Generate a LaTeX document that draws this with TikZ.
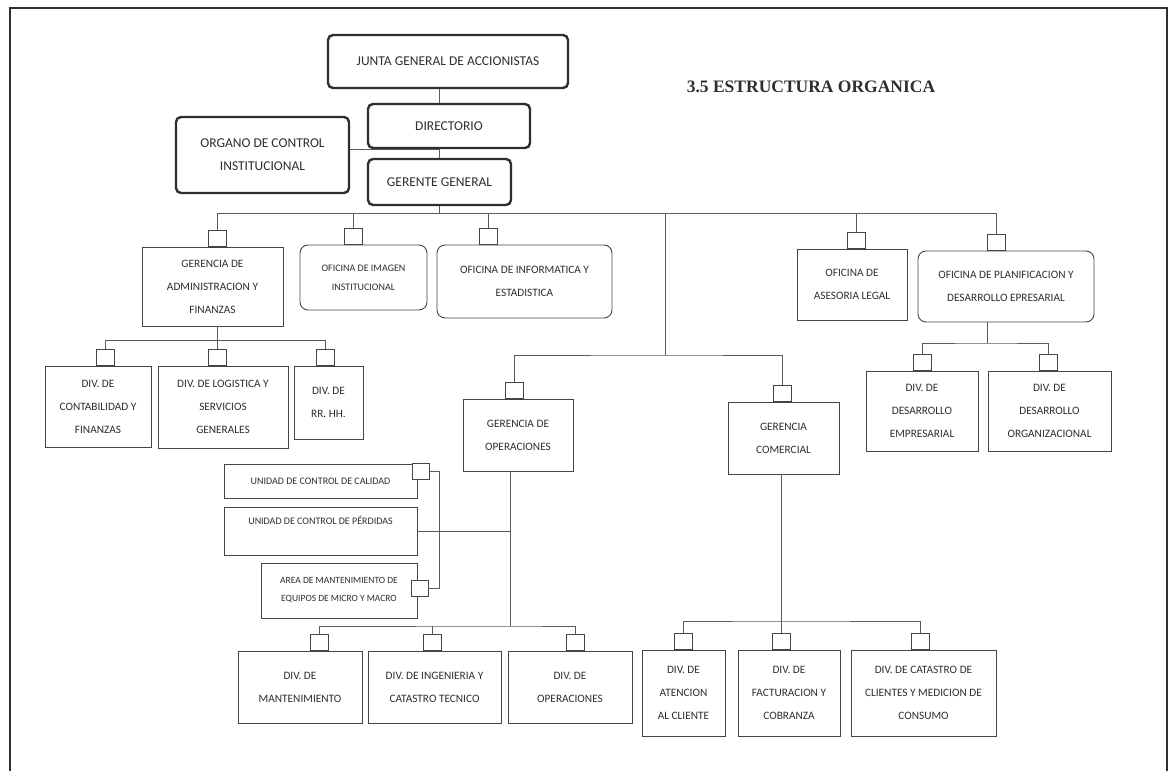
\documentclass[tikz,border=0pt]{standalone}
\usepackage{fontspec}
\setmainfont{Carlito}
\newfontfamily\titlefont{Liberation Serif}
\usepackage{tikz}
\usepackage{xcolor}
\definecolor{ink}{HTML}{2E2E2E}
\definecolor{boxcol}{HTML}{444444}
\definecolor{wirecol}{HTML}{5A5A5A}
\tikzset{
    top-box/.style = {draw=ink, fill=white, line width=2.4pt, rectangle, rounded corners=5pt, align=center, inner sep=2pt, text=ink, font=\fontsize{13.5}{23}\selectfont},
    plain-box/.style = {draw=boxcol, fill=white, line width=0.9pt, rectangle, align=center, inner sep=2pt, text=ink, font=\fontsize{11.3}{23}\selectfont},
    round-box/.style = {plain-box, rounded corners=8pt},
    unit-box/.style = {plain-box, font=\fontsize{10}{18}\selectfont},
    link-box/.style = {draw=boxcol, fill=white, line width=0.9pt, rectangle, minimum width=18pt, minimum height=16pt, inner sep=0pt, anchor=south},
    wire/.style = {draw=wirecol, line width=0.9pt},
}

\begin{document}
\begin{tikzpicture}[x=1pt, y=-1pt]
\useasboundingbox (0,0) rectangle (1170,771);
\draw[ink, line width=1.4pt] (10,771) -- (10,8) -- (1167,8) -- (1167,771);

% top of the chart
\node[top-box, minimum width=240pt, minimum height=53pt] (junta) at (448,61.5) {JUNTA GENERAL DE ACCIONISTAS};
\node[top-box, minimum width=162pt, minimum height=44pt] (directorio) at (449,126) {DIRECTORIO};
\node[top-box, minimum width=173pt, minimum height=76pt] (organo) at (262.5,155) {ORGANO DE CONTROL\\INSTITUCIONAL};
\node[top-box, minimum width=143pt, minimum height=46pt] (gerente) at (439.5,182) {GERENTE GENERAL};
\node[text=ink, font=\titlefont\bfseries\fontsize{17.5}{20}\selectfont] (titulo) at (811,87) {3.5 ESTRUCTURA ORGANICA};

% second level
\node[plain-box, minimum width=141pt, minimum height=79pt] (adm) at (212.5,286.5) {GERENCIA DE\\ADMINISTRACION Y\\FINANZAS};
\node[round-box, minimum width=127pt, minimum height=65pt, font=\fontsize{10}{19}\selectfont] (img) at (363.5,277.5) {OFICINA DE IMAGEN\\INSTITUCIONAL};
\node[round-box, minimum width=175pt, minimum height=73pt] (inf) at (524.5,281.5) {OFICINA DE INFORMATICA Y\\ESTADISTICA};
\node[plain-box, minimum width=110pt, minimum height=71pt] (ase) at (852,284.5) {OFICINA DE\\ASESORIA LEGAL};
\node[round-box, minimum width=176pt, minimum height=71pt] (pla) at (1006,286.5) {OFICINA DE PLANIFICACION Y\\DESARROLLO EPRESARIAL};

\node[link-box] (sqadm) at (217,247) {};
\node[link-box] (sqimg) at (353,245) {};
\node[link-box] (sqinf) at (488,245) {};
\node[link-box] (sqase) at (856,249) {};
\node[link-box] (sqpla) at (996,251) {};

% divisions under administracion
\node[plain-box, minimum width=106pt, minimum height=81pt] (con) at (98,406.5) {DIV. DE\\CONTABILIDAD Y\\FINANZAS};
\node[plain-box, minimum width=130pt, minimum height=82pt] (log) at (223,407) {DIV. DE LOGISTICA Y\\SERVICIOS\\GENERALES};
\node[plain-box, minimum width=69pt, minimum height=73pt] (rrh) at (328.5,402.5) {DIV. DE\\RR. HH.};
\node[link-box] (sqcon) at (105,366) {};
\node[link-box] (sqlog) at (217,366) {};
\node[link-box] (sqrrh) at (325,366) {};

% divisions under planificacion
\node[plain-box, minimum width=112pt, minimum height=80pt] (emp) at (922,411) {DIV. DE\\DESARROLLO\\EMPRESARIAL};
\node[plain-box, minimum width=123pt, minimum height=80pt] (org) at (1049.5,411) {DIV. DE\\DESARROLLO\\ORGANIZACIONAL};
\node[link-box] (sqemp) at (922,371) {};
\node[link-box] (sqorg) at (1048,371) {};

% gerencias
\node[plain-box, minimum width=110pt, minimum height=72pt] (gop) at (518,435) {GERENCIA DE\\OPERACIONES};
\node[plain-box, minimum width=111pt, minimum height=72pt] (gcom) at (783.5,438) {GERENCIA\\COMERCIAL};
\node[link-box] (sqop) at (514,399) {};
\node[link-box] (sqcom) at (782,402) {};

% unidades beside operaciones
\node[unit-box, minimum width=193pt, minimum height=34pt] (cal) at (320.5,481) {UNIDAD DE CONTROL DE CALIDAD};
\node[unit-box, minimum width=193pt, minimum height=48pt, label={[anchor=north, yshift=-6pt, text=ink, font=\fontsize{10}{18}\selectfont]north:UNIDAD DE CONTROL DE PÉRDIDAS}] (per) at (320.5,531) {};
\node[unit-box, minimum width=156pt, minimum height=55pt, font=\fontsize{9.5}{18}\selectfont] (are) at (339,590.5) {AREA DE MANTENIMIENTO DE\\EQUIPOS DE MICRO Y MACRO};
\node[link-box, anchor=center, minimum width=17pt] (sqcal) at (420.5,471) {};
\node[link-box, anchor=center, minimum width=17pt] (sqare) at (419.5,588.5) {};

% divisions under operaciones
\node[plain-box, minimum width=124pt, minimum height=72pt] (man) at (300,687) {DIV. DE\\MANTENIMIENTO};
\node[plain-box, minimum width=133pt, minimum height=72pt] (ing) at (434.5,687) {DIV. DE INGENIERIA Y\\CATASTRO TECNICO};
\node[plain-box, minimum width=124pt, minimum height=72pt] (dop) at (570,687) {DIV. DE\\OPERACIONES};
\node[link-box] (sqman) at (319,651) {};
\node[link-box] (sqing) at (432,651) {};
\node[link-box] (sqdop) at (575,651) {};

% divisions under comercial
\node[plain-box, minimum width=83pt, minimum height=86pt] (ate) at (683.5,693) {DIV. DE\\ATENCION\\AL CLIENTE};
\node[plain-box, minimum width=102pt, minimum height=86pt] (fac) at (789,693) {DIV. DE\\FACTURACION Y\\COBRANZA};
\node[plain-box, minimum width=145pt, minimum height=86pt] (cat) at (923.5,693) {DIV. DE CATASTRO DE\\CLIENTES Y MEDICION DE\\CONSUMO};
\node[link-box] (sqate) at (683,650) {};
\node[link-box] (sqfac) at (781,650) {};
\node[link-box] (sqcat) at (920,650) {};

% connectors
\coordinate (bus) at (0,213);
\coordinate (mid) at (665,213);
\coordinate (midlow) at (665,355);
\coordinate (admbus) at (0,340);
\coordinate (plabus) at (987,343);
\coordinate (opbus) at (510,626);
\coordinate (combus) at (781,621);

\draw[wire] (junta.south -| gerente) -- (directorio.north -| gerente);
\draw[wire] (directorio.south -| gerente) -- (gerente.north);
\draw[wire] (organo.east |- directorio.south) -- (directorio.south -| gerente);
\draw[wire] (gerente.south) -- (gerente.south |- bus);
\draw[wire] (sqadm.north) |- (sqpla.north |- bus) -- (sqpla.north);
\draw[wire] (sqimg.north) -- (sqimg.north |- bus);
\draw[wire] (sqinf.north) -- (sqinf.north |- bus);
\draw[wire] (sqase.north) -- (sqase.north |- bus);
\draw[wire] (mid) -- (midlow);
\draw[wire] (sqop.north) |- (midlow) -| (sqcom.north);

\draw[wire] (adm.south -| sqlog.north) -- (sqlog.north);
\draw[wire] (sqcon.north) |- (sqrrh.north |- admbus) -- (sqrrh.north);

\draw[wire] (pla.south -| plabus) -- (plabus);
\draw[wire] (sqemp.north) |- (plabus) -| (sqorg.north);

\draw[wire] (gop.south -| opbus) -- (opbus);
\draw[wire] (per.east) -- (per.east -| opbus);
\draw[wire] (sqcal.east) -- ++(10,0) |- (sqare.east);
\draw[wire] (sqman.north) |- (opbus) -| (sqdop.north);
\draw[wire] (sqing.north) -- (sqing.north |- opbus);

\draw[wire] (gcom.south -| sqfac.north) -- (sqfac.north);
\draw[wire] (sqate.north) |- (combus) -| (sqcat.north);
\end{tikzpicture}
\end{document}
